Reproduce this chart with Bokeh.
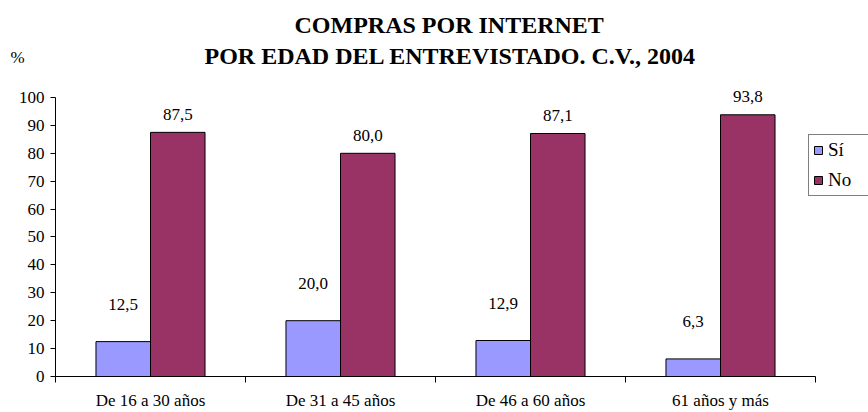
from bokeh.plotting import figure
from bokeh.models import (ColumnDataSource, FixedTicker, Legend, LegendItem,
                          LinearAxis, Range1d, LabelSet, Title)
from bokeh.embed import file_html
from bokeh.resources import INLINE

categories = ["De 16 a 30 años", "De 31 a 45 años", "De 46 a 60 años", "61 años y más"]
si_values = [12.5, 20.0, 12.9, 6.3]
no_values = [87.5, 80.0, 87.1, 93.8]
y_ticks = [0, 10, 20, 30, 40, 50, 60, 70, 80, 90, 100]
title_line1 = "COMPRAS POR INTERNET"
title_line2 = "POR EDAD DEL ENTREVISTADO. C.V., 2004"
unit_text = "%"

FONT = "'Times New Roman', 'Liberation Serif', serif"
SI_COLOR = "#9999FF"
NO_COLOR = "#993366"
BAR_W = 0.287

n = len(categories)
centers = [i + 0.5 for i in range(n)]
fmt = lambda v: f"{v:.1f}".replace(".", ",")

src_si = ColumnDataSource(dict(x=[c - BAR_W / 2 for c in centers], top=si_values,
                               lab=[fmt(v) for v in si_values]))
src_no = ColumnDataSource(dict(x=[c + BAR_W / 2 for c in centers], top=no_values,
                               lab=[fmt(v) for v in no_values]))

W, H = 868, 412
LEFT, RIGHT_AXIS_END = 55, 815
x_end = n * (W - LEFT) / (RIGHT_AXIS_END - LEFT)   # frame runs to the canvas edge

p = figure(width=W, height=H, output_backend="svg", toolbar_location=None,
           x_range=Range1d(0, x_end), y_range=Range1d(0, 104.3),
           min_border_left=LEFT, min_border_right=0, min_border_top=85, min_border_bottom=35,
           x_axis_type=None, y_axis_type=None)
p.title = None
p.grid.visible = False
p.outline_line_color = None
p.background_fill_color = "white"
p.border_fill_color = "white"

r_si = p.vbar(x="x", top="top", width=BAR_W, bottom=0, source=src_si,
              fill_color=SI_COLOR, line_color="black", line_width=1)
r_no = p.vbar(x="x", top="top", width=BAR_W, bottom=0, source=src_no,
              fill_color=NO_COLOR, line_color="black", line_width=1)

p.add_layout(LabelSet(x="x", y="top", text="lab", source=src_si, y_offset=37,
                      text_align="center", text_baseline="middle",
                      text_font=FONT, text_font_size="17px", text_color="black"))
p.add_layout(LabelSet(x="x", y="top", text="lab", source=src_no, y_offset=18,
                      text_align="center", text_baseline="middle",
                      text_font=FONT, text_font_size="17px", text_color="black"))

# y axis
yax = LinearAxis(ticker=FixedTicker(ticks=y_ticks, minor_ticks=[]), bounds=(0, 100))
yax.axis_line_color = "black"
yax.major_tick_out = 5
yax.major_tick_in = 0
yax.minor_tick_out = 0
yax.major_label_standoff = 6
yax.major_label_text_font = FONT
yax.major_label_text_font_size = "17px"
yax.major_label_text_color = "black"
p.add_layout(yax, "left")

# x axis
xax = LinearAxis(ticker=FixedTicker(ticks=centers, minor_ticks=list(range(n + 1))),
                 bounds=(0, n))
xax.major_label_overrides = {c: lab for c, lab in zip(centers, categories)}
xax.axis_line_color = "black"
xax.major_tick_out = 0
xax.major_tick_in = 0
xax.minor_tick_out = 6
xax.minor_tick_in = 0
xax.minor_tick_line_color = "black"
xax.major_label_standoff = 8
xax.major_label_text_font = FONT
xax.major_label_text_font_size = "17px"
xax.major_label_text_color = "black"
p.add_layout(xax, "below")

# titles, stacked outward from the frame
def title(text, size, bold, offset, standoff):
    return Title(text=text, align="left", offset=offset, standoff=standoff,
                 vertical_align="bottom", text_font=FONT, text_font_size=size,
                 text_font_style="bold" if bold else "normal", text_color="black")

p.add_layout(title(title_line2, "24px", True, 149, 33.4), "above")
p.add_layout(title(unit_text, "17px", False, -45, -84.8), "above")
p.add_layout(title(title_line1, "24px", True, 239, -27.6), "above")
p.add_layout(title(" ", "17px", False, 0, 1.2), "above")

legend = Legend(items=[LegendItem(label="Sí", renderers=[r_si]),
                       LegendItem(label="No", renderers=[r_no])],
                location=(808 - LEFT, 180), orientation="vertical")
legend.border_line_color = "black"
legend.border_line_width = 1
legend.background_fill_color = "white"
legend.label_text_font = FONT
legend.label_text_font_size = "19px"
legend.label_text_color = "black"
legend.label_width = 60
legend.glyph_width = 10
legend.glyph_height = 10
legend.label_height = 22
legend.spacing = 8
legend.padding = 4
legend.margin = 0
legend.label_standoff = 5
p.add_layout(legend, "center")

open("out.html", "w").write(file_html(p, INLINE))
